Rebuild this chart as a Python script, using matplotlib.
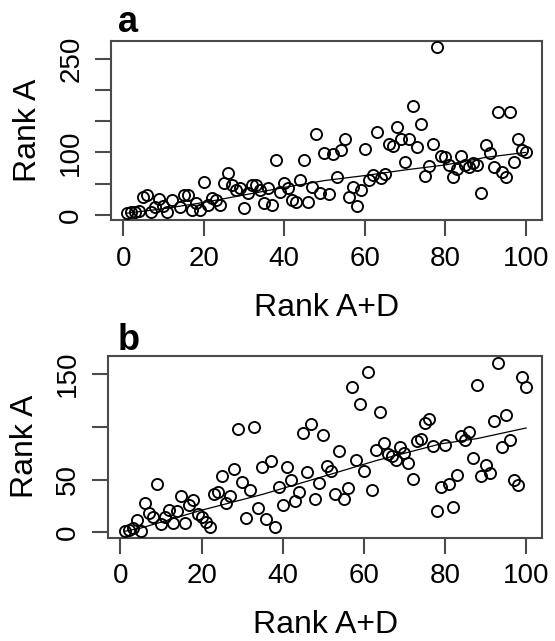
import numpy as np
import matplotlib
matplotlib.use("Agg")
import matplotlib.pyplot as plt

plt.rcParams['font.family'] = ['Liberation Sans', 'DejaVu Sans']

# panel a: Rank A+D vs Rank A
a_x = [1, 2, 3, 4, 5, 6, 7, 8, 9, 10, 11, 12, 14, 15, 16, 17, 18, 19, 20, 21,
       22, 23, 24, 25, 26, 27, 28, 29, 30, 31, 32, 33, 34, 35, 36, 37, 38, 39, 40, 41,
       42, 43, 44, 45, 46, 47, 48, 49, 50, 51, 52, 53, 54, 55, 56, 57, 58, 59, 60, 61,
       62, 63, 64, 65, 66, 67, 68, 69, 70, 71, 72, 73, 74, 75, 76, 77, 78, 79, 80, 81,
       82, 83, 84, 85, 86, 87, 88, 89, 90, 91, 92, 93, 94, 95, 96, 97, 98, 99, 100]
a_y = [3, 4, 5, 7, 29, 32, 4, 13, 26, 14, 5, 24, 12, 32, 32, 8, 19, 8, 53, 16,
       27, 24, 16, 51, 67, 48, 40, 43, 11, 35, 48, 48, 40, 19, 43, 16, 88, 37, 51, 43,
       24, 21, 56, 88, 21, 45, 130, 35, 99, 34, 97, 61, 104, 122, 29, 45, 14, 40, 105, 56,
       64, 133, 59, 66, 113, 110, 141, 122, 85, 121, 174, 109, 146, 63, 78, 114, 268, 94, 93, 80,
       60, 73, 94, 80, 77, 83, 80, 35, 112, 99, 76, 165, 69, 61, 165, 85, 121, 104, 101]
a_line_x = [1, 10, 20, 30, 40, 50, 60, 70, 80, 90, 100]
a_line_y = [3, 10, 20, 32, 44, 55, 63, 72, 80, 92, 100]

# panel b
b_x = list(range(1, 101))
b_y = [1, 2, 4, 12, 1, 28, 18, 15, 46, 8, 15, 21, 9, 20, 34, 9, 26, 31, 17, 15,
       10, 5, 36, 38, 53, 28, 34, 60, 98, 48, 14, 40, 100, 23, 62, 13, 68, 5, 43, 26,
       62, 50, 30, 38, 94, 57, 103, 32, 47, 92, 63, 58, 36, 77, 32, 42, 138, 69, 122, 58,
       152, 40, 78, 114, 85, 74, 72, 69, 81, 75, 66, 51, 87, 89, 104, 108, 82, 20, 43, 83,
       46, 24, 54, 91, 88, 95, 71, 140, 53, 64, 56, 106, 161, 81, 111, 88, 50, 45, 147, 138]
b_line_x = [1, 5, 20, 35, 50, 63, 79, 88, 100]
b_line_y = [1, 4, 21, 36, 53, 68, 84, 89, 99]

x_ticks = [0, 20, 40, 60, 80, 100]
a_yticks = [0, 50, 100, 150, 200, 250]
a_ylabels = ['0', '', '100', '', '', '250']
b_yticks = [0, 50, 100, 150]
b_ylabels = ['0', '50', '', '150']

W, H = 555, 641
fig = plt.figure(figsize=(W / 100, H / 100), dpi=100)
ax_a = fig.add_axes([111.3 / W, 1 - 220 / H, 430.4 / W, 179.3 / H])
ax_b = fig.add_axes([108.3 / W, 1 - 537.7 / H, 434 / W, 182 / H])

box_col = '#4a4a4a'


def style(ax, xs, ys, lx, ly, yt, yl, xlim, ylim):
    ax.plot(xs, ys, 'o', mfc='none', mec='black', ms=8, mew=1.35, zorder=3)
    ax.plot(lx, ly, color='black', lw=0.9, zorder=2)
    ax.set_xlim(*xlim)
    ax.set_ylim(*ylim)
    ax.set_xticks(x_ticks)
    ax.set_xticklabels([str(t) for t in x_ticks])
    ax.set_yticks(yt)
    ax.set_yticklabels(yl, rotation=90, va='center')
    for s in ax.spines.values():
        s.set_color(box_col)
        s.set_linewidth(1.5)
    ax.tick_params(direction='out', length=11.5, width=1.5, color=box_col,
                   labelsize=20, pad=7)
    ax.tick_params(axis='y', pad=8)
    ax.set_xlabel('Rank A+D', fontsize=23, labelpad=15)
    ax.set_ylabel('Rank A', fontsize=23, labelpad=11)


style(ax_a, a_x, a_y, a_line_x, a_line_y, a_yticks, a_ylabels, (-2.96, 103.96), (-8, 278.5))
style(ax_b, b_x, b_y, b_line_x, b_line_y, b_yticks, b_ylabels, (-3, 104), (-5.1, 167.6))

fig.text(118 / W, 1 - 32 / H, 'a', fontsize=26, fontweight='bold', va='baseline')
fig.text(118 / W, 1 - 350 / H, 'b', fontsize=26, fontweight='bold', va='baseline')

fig.savefig('out.png', dpi=100)
